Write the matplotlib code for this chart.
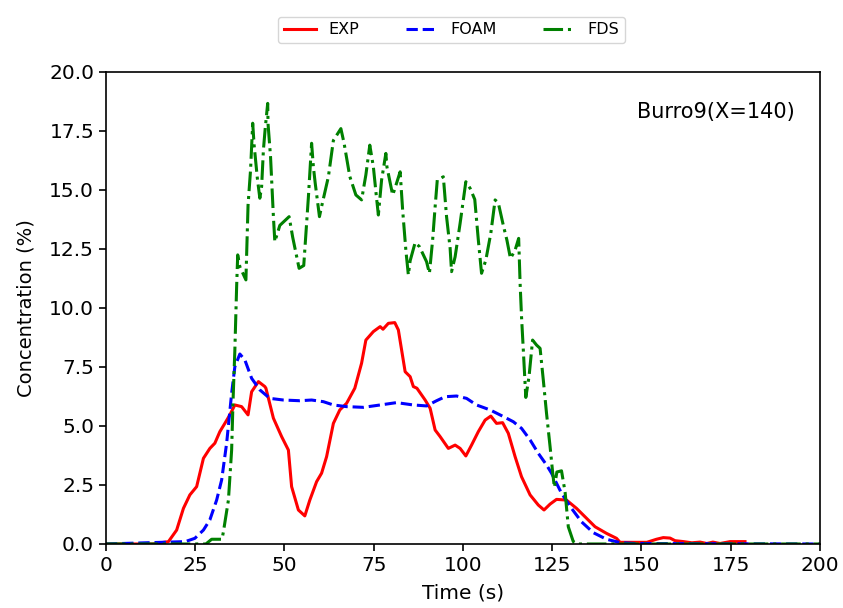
import numpy as np
import matplotlib
matplotlib.use("Agg")
import matplotlib.pyplot as plt

# ---- data ----
exp_t = [0, 13.2, 17.5, 19.8, 21.7, 23.5, 25.4, 27.3, 29.1, 30.5, 31.9, 33.3, 34.7, 36.1,
         38.0, 39.8, 40.8, 42.7, 44.5, 44.8, 46.9, 49.2, 51.1, 52.0, 53.9, 55.7, 57.1,
         59.0, 60.4, 61.8, 63.7, 65.5, 67.4, 69.7, 71.6, 72.8, 74.9, 76.8, 77.6, 79.1,
         80.9, 81.9, 83.8, 85.2, 86.1, 87.1, 89.4, 90.8, 92.2, 93.6, 95.9, 97.8, 99.2,
         100.8, 102.4, 104.3, 106.2, 107.8, 109.4, 111.1, 112.7, 114.6, 116.4, 118.8,
         121.1, 122.7, 124.4, 126.2, 129.0, 131.8, 134.6, 137.0, 140.2, 143.0, 144.0,
         151.5, 154.2, 156.1, 158.0, 159.4, 161.8, 164.1, 166.4, 168.3, 170.0, 172.0,
         174.8, 179.0]
exp_c = [0, 0.0, 0.1, 0.59, 1.51, 2.08, 2.43, 3.63, 4.05, 4.27, 4.76, 5.11, 5.47, 5.89,
         5.82, 5.47, 6.45, 6.88, 6.67, 6.6, 5.33, 4.55, 3.98, 2.43, 1.44, 1.19, 1.86,
         2.64, 3.0, 3.7, 5.11, 5.68, 5.96, 6.6, 7.66, 8.64, 9.0, 9.21, 9.1, 9.35,
         9.38, 9.07, 7.3, 7.09, 6.67, 6.6, 6.1, 5.75, 4.83, 4.55, 4.05, 4.19, 4.05,
         3.73, 4.19, 4.76, 5.25, 5.42, 5.11, 5.14, 4.69, 3.7, 2.85, 2.08,
         1.65, 1.44, 1.69, 1.89, 1.86, 1.51, 1.09, 0.73, 0.45, 0.24, 0.07,
         0.07, 0.2, 0.27, 0.25, 0.14, 0.1, 0.05, 0.08, 0.02, 0.08, 0.02,
         0.1, 0.1]

foam_t = [0, 22.2, 24.9, 27.3, 29.1, 31.0, 32.4, 33.8, 35.2, 36.1, 37.5, 38.9, 40.8,
          43.1, 45.9, 49.7, 54.3, 57.6, 60.9, 63.7, 67.4, 72.1, 76.8, 81.4, 86.1,
          89.8, 92.6, 95.0, 98.2, 101.0, 103.8, 107.6, 111.3, 114.1, 116.4, 118.8,
          121.1, 123.4, 124.8, 127.6, 130.4, 133.2, 136.5, 140.2, 144.0, 148.0, 200]
foam_c = [0, 0.1, 0.24, 0.59, 1.02, 1.86, 2.71, 4.27, 6.38, 7.51, 8.05, 7.8, 7.02,
          6.53, 6.17, 6.1, 6.07, 6.1, 6.03, 5.89, 5.82, 5.79, 5.89, 5.99, 5.89,
          5.85, 6.07, 6.24, 6.27, 6.17, 5.89, 5.68, 5.4, 5.18, 4.9, 4.41,
          3.84, 3.35, 3.0, 2.15, 1.51, 0.94, 0.48, 0.2, 0.06, 0.02, 0.0]

fds_t = [0, 28.0, 29.6, 32.5, 32.9, 34.3, 35.2, 35.6, 36.1, 36.6, 36.9, 37.5, 39.2,
         39.8, 40.5, 41.1, 41.5, 42.4, 43.1, 43.6, 44.1, 44.6, 45.3, 45.4, 46.1,
         46.9, 47.3, 48.7, 51.3, 52.3, 54.1, 55.4, 56.7, 57.6, 58.1, 58.6, 59.8,
         60.4, 62.3, 63.7, 65.8, 66.7, 68.3, 70.0, 71.6, 72.8, 73.9, 74.9, 75.7,
         76.3, 77.2, 78.4, 78.7, 80.3, 80.8, 82.4, 83.1, 84.0, 84.7, 85.2, 86.6,
         87.8, 88.9, 89.8, 90.6, 91.5, 92.2, 92.8, 94.5, 95.4, 96.4, 96.8, 97.8,
         99.2, 100.8, 102.0, 103.3, 104.3, 105.2, 106.4, 107.8, 109.0, 109.9,
         111.3, 112.3, 113.3, 114.6, 115.6, 116.0, 116.4, 116.9, 117.6, 118.5,
         119.5, 120.6, 121.6, 122.5, 123.4, 124.4, 125.1, 125.6, 126.3, 127.6,
         128.6, 129.5, 130.9, 132.0, 200]
fds_c = [0, 0.0, 0.2, 0.2, 0.52, 1.86, 3.98, 6.1, 8.2, 10.9, 12.25, 11.75, 11.19,
         14.36, 15.85, 17.83, 16.9, 15.5, 14.65, 15.14, 16.7, 17.6, 18.67, 17.8, 16.4,
         13.87, 12.81, 13.5, 13.87, 13.0, 11.68, 11.8, 14.7, 16.98, 15.98, 15.3, 13.87,
         14.3, 15.56, 17.1, 17.6, 16.98, 15.57, 14.79, 14.58, 15.64, 16.9, 15.98, 14.79,
         13.94, 15.42, 16.55, 15.98, 14.79, 15.0, 15.77, 14.15, 12.45, 11.4, 12.0, 12.77,
         12.6, 12.25, 11.96, 11.47, 12.88, 14.29, 15.42, 15.56, 13.87, 12.53, 11.54, 12.17,
         13.59, 15.35, 15.07, 14.6, 12.88, 11.47, 12.03, 13.17, 14.58, 14.45,
         13.5, 12.88, 12.1, 12.45, 12.95, 11.05, 9.63, 8.22, 6.21, 7.09,
         8.64, 8.43, 8.29, 6.95, 5.54, 4.12, 3.06, 2.4, 3.05, 3.1,
         2.2, 0.73, 0.1, 0.0, 0.0]

x_ticks = np.arange(0, 201, 25)
y_ticks = np.arange(0, 20.1, 2.5)

fig = plt.figure(figsize=(8.43, 6.08), dpi=100)
ax = fig.add_axes([0.1257, 0.1053, 0.8470, 0.7763])

ax.plot(exp_t, exp_c, color="red", linestyle="-", linewidth=2.2, label="EXP")
ax.plot(foam_t, foam_c, color="blue", linestyle="--", linewidth=2.2, label="FOAM")
ax.plot(fds_t, fds_c, color="green", linestyle="-.", linewidth=2.2, label="FDS")

ax.set_xlim(0, 200)
ax.set_ylim(0, 20)
ax.set_xticks(x_ticks)
ax.set_yticks(y_ticks)
ax.set_yticklabels([f"{v:.1f}" for v in y_ticks])
ax.tick_params(labelsize=14.5, length=5, width=1.2)
for s in ax.spines.values():
    s.set_linewidth(1.2)
ax.set_xlabel("Time (s)", fontsize=14.5, labelpad=6)
ax.set_ylabel("Concentration (%)", fontsize=14, labelpad=10)
ax.text(0.965, 0.915, "Burro9(X=140)", transform=ax.transAxes, ha="right",
        va="center", fontsize=15)

ax.legend(loc="lower center", bbox_to_anchor=(0.484, 1.045), ncol=3, fontsize=11.5,
          frameon=True, columnspacing=2.9, borderpad=0.35)

fig.savefig("out.png", dpi=100)
